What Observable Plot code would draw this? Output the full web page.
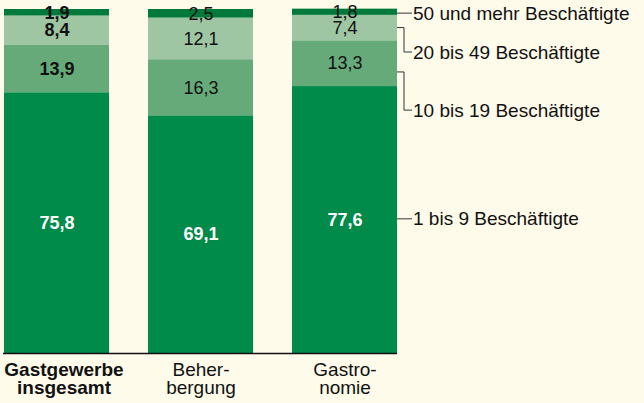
<!DOCTYPE html>
<html>
<head>
<meta charset="utf-8">
<script src="https://cdn.jsdelivr.net/npm/d3@7"></script>
<script src="https://cdn.jsdelivr.net/npm/@observablehq/plot@0.6"></script>
<style>
  html, body { margin: 0; padding: 0; background: #fffbea; }
  #chart svg { display: block; }
</style>
</head>
<body>
<div id="chart"></div>
<script>
// ---- data ----
const categories = ["Gastgewerbe insgesamt", "Beherbergung", "Gastronomie"];
const categoryLabels = ["Gastgewerbe\ninsgesamt", "Beher-\nbergung", "Gastro-\nnomie"];
const groups = ["1 bis 9 Beschäftigte", "10 bis 19 Beschäftigte", "20 bis 49 Beschäftigte", "50 und mehr Beschäftigte"];
const values1bis9 = [75.8, 69.1, 77.6];
const values10bis19 = [13.9, 16.3, 13.3];
const values20bis49 = [8.4, 12.1, 7.4];
const values50plus = [1.9, 2.5, 1.8];
// legend annotation anchors (in percent units)
const legendAt = [39.0, 70.6, 87.5, 98.8];
const leaderFrom = [39.0, 81.7, 94.6, 98.8];

const colors = ["#008b4a", "#66aa7a", "#9ec6a2", "#00793a"];

const series = [values1bis9, values10bis19, values20bis49, values50plus];
const table = [];
categories.forEach((c, i) => {
  groups.forEach((g, j) => table.push({category: c, group: g, value: series[j][i]}));
});
const fmt = v => v.toFixed(1).replace(".", ",");
const legend = groups.map((g, j) => ({group: g, y: legendAt[j], from: leaderFrom[j]}));
const lastCat = categories[categories.length - 1];

const font = "'Liberation Sans', Arial, sans-serif";

const plot = Plot.plot({
  width: 644,
  height: 403,
  marginLeft: 3,
  marginRight: 247,
  marginTop: 9,
  marginBottom: 50,
  style: {background: "#fffbea", fontFamily: font, color: "#111", overflow: "visible"},
  x: {domain: categories, paddingInner: 0.273, paddingOuter: 0, axis: null},
  y: {domain: [0, 100], axis: null},
  color: {domain: groups, range: colors},
  marks: [
    Plot.barY(table, Plot.stackY({x: "category", y: "value", fill: "group"})),
    // white bold labels in base segment
    Plot.text(table, Plot.stackY({x: "category", y: "value",
      text: d => d.group === groups[0] ? fmt(d.value) : null,
      fill: "white", fontWeight: "bold", fontSize: 18})),
    // bold black labels for the total bar
    Plot.text(table, Plot.stackY({x: "category", y: "value",
      text: d => d.group !== groups[0] && d.category === categories[0] ? fmt(d.value) : null,
      fill: "#111", fontWeight: "bold", fontSize: 18})),
    // regular black labels
    Plot.text(table, Plot.stackY({x: "category", y: "value",
      text: d => d.group !== groups[0] && d.category !== categories[0] ? fmt(d.value) : null,
      fill: "#111", fontSize: 18})),
    Plot.ruleY([0], {stroke: "#111", strokeWidth: 1.5}),
    // category labels
    Plot.text(categories, {x: d => d, y: () => 0,
      text: (d, i) => i === 0 ? categoryLabels[i] : null,
      lineAnchor: "top", dy: 10, dx: 7, lineHeight: 0.95, fontSize: 19, fontWeight: "bold", fill: "#111"}),
    Plot.text(categories, {x: d => d, y: () => 0,
      text: (d, i) => i !== 0 ? categoryLabels[i] : null,
      lineAnchor: "top", dy: 10, lineHeight: 0.95, fontSize: 19, fill: "#111"}),
    // legend labels
    Plot.text(legend, {x: () => lastCat, y: "y", text: "group",
      textAnchor: "start", dx: 68, fontSize: 19, fill: "#111"})
  ]
});

// leader lines, positioned through Plot's scales
const xs = plot.scale("x"), ys = plot.scale("y");
const right = xs.apply(lastCat) + xs.bandwidth;
const elbow = right + 7, end = right + 15;
const g = d3.select(plot).append("g").attr("fill", "none").attr("stroke", "#333").attr("stroke-width", 1);
legend.forEach(l => {
  const y0 = ys.apply(l.from), y1 = ys.apply(l.y);
  const d = Math.abs(y0 - y1) < 0.5
    ? `M${right},${y1}H${end}`
    : `M${right},${y0}H${elbow}V${y1}H${end}`;
  g.append("path").attr("d", d);
});

document.getElementById("chart").appendChild(plot);
</script>
</body>
</html>
